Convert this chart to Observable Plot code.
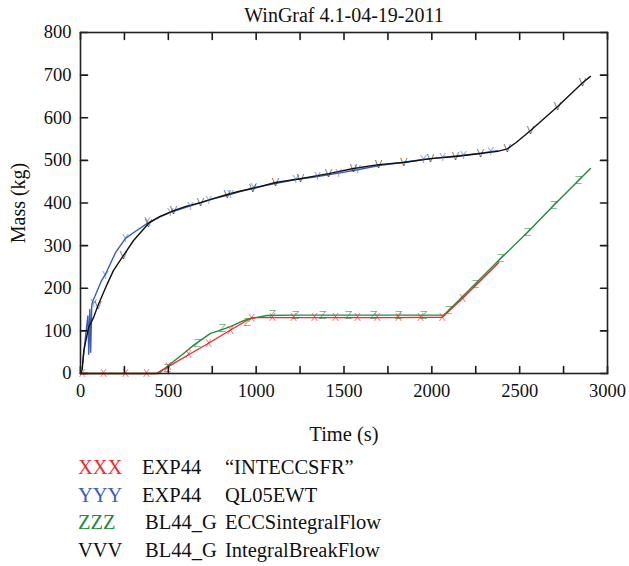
<!DOCTYPE html>
<html>
<head>
<meta charset="utf-8">
<script src="https://cdn.jsdelivr.net/npm/d3@7"></script>
<script src="https://cdn.jsdelivr.net/npm/@observablehq/plot@0.6"></script>
<style>
  body { margin: 0; background: #fff; }
  #legend { position: relative; font-family: "Liberation Serif", serif; font-size: 20.5px; color: #111; padding-top: 4px; }
  .row { position: relative; height: 27.6px; line-height: 27.6px; }
  .row span { position: absolute; top: 0; white-space: nowrap; }
</style>
</head>
<body>
<div id="chart"></div>
<div id="legend"></div>
<script>
// ---- data ----
const redT   = [0, 430, 512, 615, 729, 854, 967, 1000, 1200, 1500, 1800, 2060, 2174, 2288, 2380];
const redM   = [0, 0, 19, 44, 71, 102, 129, 131, 131, 131, 131, 132, 176, 222, 260];
const redMkT = [10, 131, 256, 376, 500, 615, 729, 854, 973, 1093, 1212, 1332, 1451, 1577, 1690, 1810, 1935, 2060, 2174];
const redMkM = [0, 0, 0, 0, 16, 44, 71, 102, 129, 131, 131, 131, 131, 131, 131, 131, 131, 132, 176];

const blueT   = [12, 22, 32, 42, 47, 53, 58, 64, 70, 81, 91, 120, 142, 200, 256, 322, 387, 450, 512, 600, 672, 750, 835, 986, 1100, 1224, 1349, 1469, 1577, 1700, 1830, 1952, 2061, 2180, 2280, 2374];
const blueM   = [25, 60, 100, 135, 45, 150, 50, 160, 170, 180, 190, 218, 233, 284, 317, 336, 354, 367, 378, 390, 399, 409, 418, 436, 445, 455, 462, 470, 478, 488, 495, 502, 507, 512, 517, 523];
const blueMkT = [74, 142, 256, 381, 512, 626, 729, 854, 986, 1224, 1349, 1469, 1577, 1952, 2061, 2180, 2334];
const blueMkM = [164, 230, 317, 356, 378, 393, 406, 420, 436, 455, 463, 470, 478, 502, 507, 512, 520];

const greenT   = [0, 445, 495, 587, 643, 740, 785, 854, 928, 967, 1062, 1200, 1500, 1800, 2070, 2390, 2544, 2693, 2835, 2903];
const greenM   = [0, 0, 17, 47, 66, 94, 100, 110, 124, 129, 136, 137, 137, 137, 137, 269, 331, 394, 453, 481];
const greenMkT = [494, 664, 807, 949, 1091, 1224, 1377, 1525, 1668, 1810, 1952, 2095, 2249, 2391, 2544, 2693, 2835];
const greenMkM = [12, 70, 105, 119, 138, 137, 137, 137, 137, 137, 137, 148, 210, 270, 331, 394, 453];

const blackT   = [0, 10, 19, 46, 74, 100, 150, 188, 245, 302, 387, 450, 530, 600, 683, 760, 835, 900, 980, 1110, 1252, 1412, 1554, 1697, 1840, 1993, 2135, 2277, 2374, 2430, 2480, 2562, 2715, 2858, 2903];
const blackM   = [0, 10, 54, 108, 131, 160, 208, 242, 277, 312, 352, 368, 382, 392, 401, 411, 420, 427, 434, 448, 457, 469, 481, 490, 495, 504, 509, 516, 521, 527, 542, 570, 626, 682, 697];
const blackMkT = [100, 245, 387, 530, 683, 835, 980, 1110, 1252, 1412, 1554, 1697, 1840, 1993, 2135, 2277, 2430, 2562, 2715, 2858];
const blackMkM = [160, 277, 352, 382, 401, 420, 434, 448, 457, 469, 481, 490, 495, 504, 509, 516, 527, 570, 626, 682];

const xTicks = [0, 250, 500, 750, 1000, 1250, 1500, 1750, 2000, 2250, 2500, 2750, 3000];
const xLabels = [0, 500, 1000, 1500, 2000, 2500, 3000];
const yTicks = [0, 100, 200, 300, 400, 500, 600, 700, 800];

const title = "WinGraf 4.1-04-19-2011";
const xLabel = "Time (s)";
const yLabel = "Mass (kg)";

const series = [
  {sym: "XXX", color: "#ee2b2b", src: "EXP44", name: "\u201CINTECCSFR\u201D", t: redT, m: redM, mt: redMkT, mm: redMkM, mk: "X"},
  {sym: "YYY", color: "#3d5cb8", src: "EXP44", name: "QL05EWT", t: blueT, m: blueM, mt: blueMkT, mm: blueMkM, mk: "Y"},
  {sym: "ZZZ", color: "#1e8a3e", src: "BL44_G", name: "ECCSintegralFlow", t: greenT, m: greenM, mt: greenMkT, mm: greenMkM, mk: "Z"},
  {sym: "VVV", color: "#111111", src: "BL44_G", name: "IntegralBreakFlow", t: blackT, m: blackM, mt: blackMkT, mm: blackMkM, mk: "V"}
];
const zip = (a, b) => a.map((v, i) => ({t: v, m: b[i]}));
const drawOrder = [2, 0, 1, 3];

const W = 629, H = 450, ML = 80, MR = 22, MT = 32, MB = 77;
const X0 = 0, X1 = 3000, Y0 = 0, Y1 = 800;
const TICK = 7; // tick length in pixels
const tx = TICK * (X1 - X0) / (W - ML - MR); // tick length in x units
const ty = TICK * (Y1 - Y0) / (H - MT - MB); // tick length in y units

// tick segments built from the tick arrays (two end points per tick, grouped by id)
const tickSegs = [];
xTicks.forEach((v, i) => {
  tickSegs.push({x: v, y: Y0, id: "b" + i}, {x: v, y: Y0 + ty, id: "b" + i});
  tickSegs.push({x: v, y: Y1 - ty, id: "t" + i}, {x: v, y: Y1, id: "t" + i});
});
yTicks.forEach((v, i) => {
  tickSegs.push({x: X0, y: v, id: "l" + i}, {x: X0 + tx, y: v, id: "l" + i});
  tickSegs.push({x: X1 - tx, y: v, id: "r" + i}, {x: X1, y: v, id: "r" + i});
});

const marks = [];
for (const k of drawOrder) {
  const s = series[k];
  marks.push(Plot.line(zip(s.t, s.m), {x: "t", y: "m", stroke: s.color, strokeWidth: 1.4}));
}
for (const k of drawOrder) {
  const s = series[k];
  marks.push(Plot.text(zip(s.mt, s.mm), {x: "t", y: "m", text: () => s.mk, fill: s.color,
    fontSize: 11, fontFamily: "DejaVu Sans", fontWeight: 300}));
}

const plot = Plot.plot({
  width: W, height: H,
  marginLeft: ML, marginRight: MR, marginTop: MT, marginBottom: MB,
  style: {fontFamily: "Liberation Serif, serif", fontSize: "18px", color: "#111", background: "#fff"},
  x: {domain: [X0, X1], axis: null},
  y: {domain: [Y0, Y1], axis: null},
  marks: [
    ...marks,
    // inward ticks on all four sides
    Plot.line(tickSegs, {x: "x", y: "y", z: "id", stroke: "#1a1a1a", strokeWidth: 1.6}),
    Plot.frame({stroke: "#222", strokeWidth: 1.6}),
    // tick labels
    Plot.text(xLabels, {x: d => d, frameAnchor: "bottom", dy: 18, textAnchor: "middle", lineAnchor: "middle",
      text: d => String(d), fontSize: 18.5, fill: "#111"}),
    Plot.text(yTicks, {y: d => d, frameAnchor: "left", dx: -9, textAnchor: "end", lineAnchor: "middle",
      text: d => String(d), fontSize: 18.5, fill: "#111"}),
    // titles
    Plot.text([title], {frameAnchor: "top", dy: -17, textAnchor: "middle", lineAnchor: "middle", text: d => d, fontSize: 20, fill: "#111"}),
    Plot.text([xLabel], {frameAnchor: "bottom", dy: 61, textAnchor: "middle", lineAnchor: "middle", text: d => d, fontSize: 20.5, fill: "#111"}),
    Plot.text([yLabel], {frameAnchor: "left", dx: -62, rotate: -90, textAnchor: "middle", lineAnchor: "middle", text: d => d, fontSize: 20, fill: "#111"})
  ]
});
document.getElementById("chart").appendChild(plot);

const lg = document.getElementById("legend");
series.forEach(s => {
  const row = document.createElement("div");
  row.className = "row";
  const srcLeft = s.src === "EXP44" ? 142 : 145;
  row.innerHTML = `<span style="left:78px;color:${s.color}">${s.sym}</span>` +
    `<span style="left:${srcLeft}px">${s.src}</span>` +
    `<span style="left:225px">${s.name}</span>`;
  lg.appendChild(row);
});
</script>
</body>
</html>
